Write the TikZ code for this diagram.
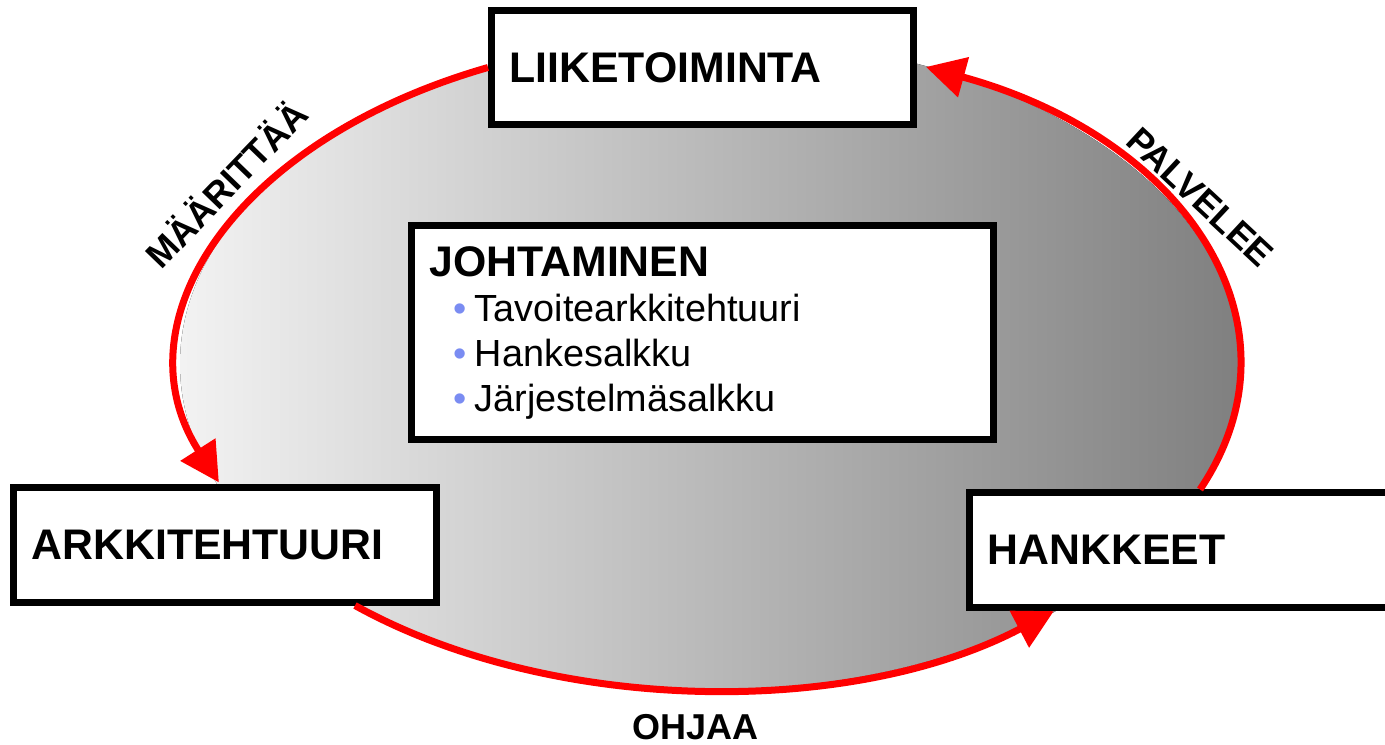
\documentclass[tikz,border=0pt]{standalone}
\usepackage{fontspec}
\setmainfont{Liberation Sans}
\usetikzlibrary{arrows.meta, positioning}
\definecolor{flowred}{RGB}{255,0,0}
\definecolor{dotblue}{RGB}{122,140,242}
\newcommand{\dotitem}[1]{\hspace*{11.8pt}{\color{dotblue}\textbullet}\hspace{4.3pt}#1}

\begin{document}
\begin{tikzpicture}
  [
    x=0.5pt, y=0.5pt,
    unitbox/.style={draw, line width=3.5pt, fill=white, align=left, inner xsep=9pt,
      minimum height=57pt, font=\fontsize{21.4}{22.5}\selectfont\bfseries},
    flow/.style={draw=flowred, line width=3.5pt, -{Triangle[length=19.5pt,width=20pt]}},
    flowlabel/.style={font=\fontsize{18}{20}\selectfont\bfseries}
  ]
  \useasboundingbox (0,0) rectangle (1385,744);
  \clip (0,0) rectangle (1385,744);
  \fill[left color=gray!10, right color=gray] (710,380) ellipse [x radius=265pt, y radius=163pt];

  \node[unitbox, text width=193pt] (liike) at (702.5,676.5) {LIIKETOIMINTA};
  \node[unitbox, text width=193.5pt] (arkk) at (225,199) {ARKKITEHTUURI};
  \node[unitbox, text width=202pt] (hank) at (1189.5,194) {HANKKEET};
  \node[unitbox, text width=273pt, minimum height=107pt] (johto) at (702.5,411.5)
    {JOHTAMINEN\\
     \fontsize{18.9}{22.5}\selectfont\mdseries
     \dotitem{Tavoitearkkitehtuuri}\\
     \dotitem{Hankesalkku}\\
     \dotitem{Järjestelmäsalkku}};

  \draw[flow] (liike.west) arc[start angle=115, end angle=201.5, x radius=265pt, y radius=163pt];
  \draw[flow] ([xshift=-42.5pt]arkk.south east) arc[start angle=228, end angle=310.5, x radius=265pt, y radius=163pt];
  \draw[flow] ([xshift=117pt]hank.north west) arc[start angle=-22.5, end angle=66, x radius=265pt, y radius=163pt];

  \node[flowlabel, rotate=46] (maar) at (225,561) {MÄÄRITTÄÄ};
  \node[flowlabel, rotate=-43] (palv) at (1200,547) {PALVELEE};
  \node[flowlabel] (ohja) at (695,17) {OHJAA};
\end{tikzpicture}
\end{document}
